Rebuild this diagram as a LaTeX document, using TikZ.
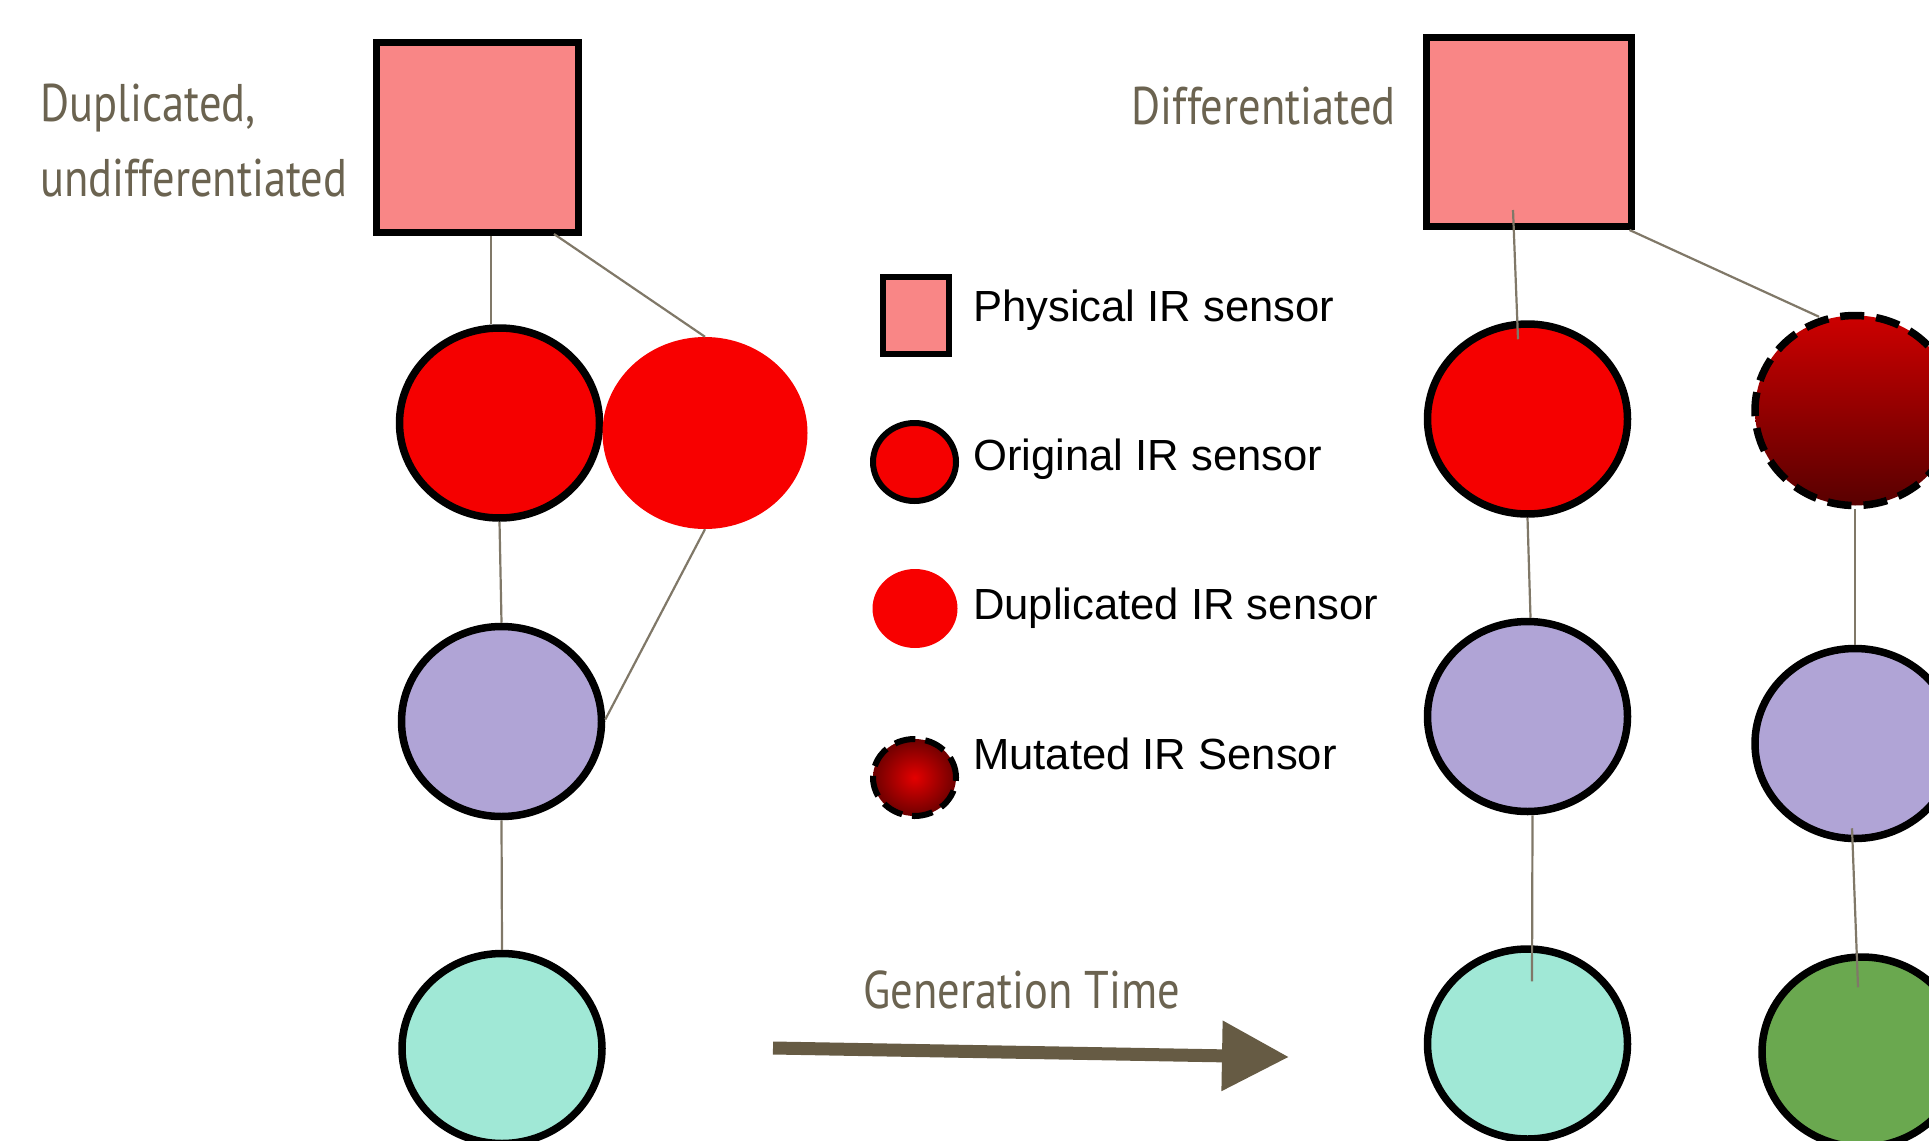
\documentclass[tikz,border=0pt]{standalone}
\usepackage{fontspec}
\setmainfont{Liberation Sans}
\newfontfamily\headfont[FakeStretch=0.84]{PT Sans}
\usetikzlibrary{calc,arrows.meta,shapes.geometric}

\definecolor{physpink}{RGB}{249,134,134}
\definecolor{irred}{RGB}{245,0,0}
\definecolor{dupred}{RGB}{248,0,0}
\definecolor{lavender}{RGB}{176,164,214}
\definecolor{mint}{RGB}{160,232,214}
\definecolor{leaf}{RGB}{106,168,79}
\definecolor{mutTop}{RGB}{205,0,0}
\definecolor{mutBot}{RGB}{88,0,0}
\definecolor{mutMid}{RGB}{228,0,0}
\definecolor{mutEdge}{RGB}{110,0,0}
\definecolor{headtxt}{RGB}{107,99,80}
\definecolor{linkc}{RGB}{128,120,104}
\definecolor{arrowc}{RGB}{102,91,68}

\tikzset{
  sensorbox/.style={rectangle, draw=black, line width=7pt, fill=physpink, inner sep=0pt},
  bigcell/.style={ellipse, draw=black, line width=7.5pt, inner sep=0pt,
    minimum width=200pt, minimum height=190pt},
  origcell/.style={bigcell, fill=irred},
  dupcell/.style={ellipse, inner sep=0pt, fill=dupred,
    minimum width=205pt, minimum height=192pt},
  mutcell/.style={bigcell, dash pattern=on 24pt off 12pt,
    top color=mutTop, bottom color=mutBot},
  midcell/.style={bigcell, fill=lavender},
  lowcell/.style={bigcell, fill=mint},
  leafcell/.style={bigcell, fill=leaf},
  link/.style={draw=linkc, line width=2.2pt},
  headlabel/.style={font=\headfont\fontsize{53}{60}\selectfont, text=headtxt, inner sep=0pt},
  legendlabel/.style={font=\fontsize{43.6}{50}\selectfont, text=black, inner sep=0pt, anchor=base west},
}

\begin{document}
\begin{tikzpicture}[x=1pt, y=-1pt]
\useasboundingbox (0,0) rectangle (1929,1140);
\clip (0,0) rectangle (1929,1140);

% ---- duplicated, undifferentiated lineage ----
\node[headlabel, anchor=base west] (labDupA) at (40,121) {Duplicated,};
\node[headlabel, anchor=base west] (labDupB) at (40,196) {undifferentiated};

\node[sensorbox, minimum width=202pt, minimum height=190pt] (sqL) at (477.5,137.5) {};
\node[origcell] (origL) at (499.5,423) {};
\node[dupcell]  (dupL)  at (705,433) {};
\node[midcell]  (purL)  at (501.5,721.5) {};
\node[lowcell]  (tealL) at (502,1048.5) {};

\draw[link] ($(sqL.south)+(13.5,0)$) -- ($(origL.north)+(-8.5,0)$);
\draw[link] ($(sqL.south east)+(-28,-2)$) -- (dupL.north);
\draw[link] (origL.south) -- (purL.north);
\draw[link] (dupL.south) -- ($(purL.east)+(0,-2)$);
\draw[link] (purL.south) -- (tealL.north);

% ---- legend ----
\node[sensorbox, line width=6pt, minimum width=66pt, minimum height=77pt] (legPhys) at (915.5,315.5) {};
\node[ellipse, draw=black, line width=6pt, fill=irred, inner sep=0pt,
      minimum width=83pt, minimum height=78pt] (legOrig) at (914.5,462) {};
\node[ellipse, fill=dupred, inner sep=0pt,
      minimum width=85pt, minimum height=79pt] (legDup) at (915,608.5) {};
\node[ellipse, draw=black, line width=6pt, dash pattern=on 21pt off 10pt,
      inner color=mutMid, outer color=mutEdge, inner sep=0pt,
      minimum width=83pt, minimum height=77pt] (legMut) at (914.5,777.5) {};

\node[legendlabel] (txtPhys) at (973,321) {Physical IR sensor};
\node[legendlabel] (txtOrig) at (973,470) {Original IR sensor};
\node[legendlabel] (txtDup)  at (973,619) {Duplicated IR sensor};
\node[legendlabel] (txtMut)  at (973,769) {Mutated IR Sensor};

% ---- generation time arrow ----
\node[headlabel, anchor=base west] (labGen) at (863,1008) {Generation Time};
\coordinate (genStart) at (773,1048);
\coordinate (genEnd) at (1289,1057);
\draw[draw=arrowc, line width=13pt,
      -{Triangle[length=67pt, width=67pt, fill=arrowc]}] (genStart) -- (genEnd);

% ---- differentiated lineage ----
\node[headlabel, anchor=base east] (labDiff) at (1396,124) {Differentiated};

\node[sensorbox, minimum width=205pt, minimum height=189pt] (sqR) at (1528.5,132) {};
\node[origcell] (origR) at (1527.5,419) {};
\node[mutcell]  (mutR)  at (1855,410.5) {};
\node[midcell]  (purR)  at (1527.5,716.5) {};
\node[midcell]  (purR2) at (1855,743.5) {};
\node[lowcell]  (tealR) at (1527.5,1044) {};
\node[leafcell] (greenR) at (1862,1052) {};

\draw[link] ($(sqR.south)+(-15.5,-20)$) -- ($(origR.north)+(-9.5,19)$);
\draw[link] ($(sqR.south east)+(-5,0)$) -- ($(mutR.north)+(-36,5)$);
\draw[link] (origR.south) -- ($(purR.north)+(3,0)$);
\draw[link] (mutR.south) -- (purR2.north);
\draw[link] ($(purR.south)+(5,0)$) -- ($(tealR.north)+(4.5,36)$);
\draw[link] ($(purR2.south)+(-3,-14)$) -- ($(greenR.north)+(-4,34)$);
\end{tikzpicture}
\end{document}
